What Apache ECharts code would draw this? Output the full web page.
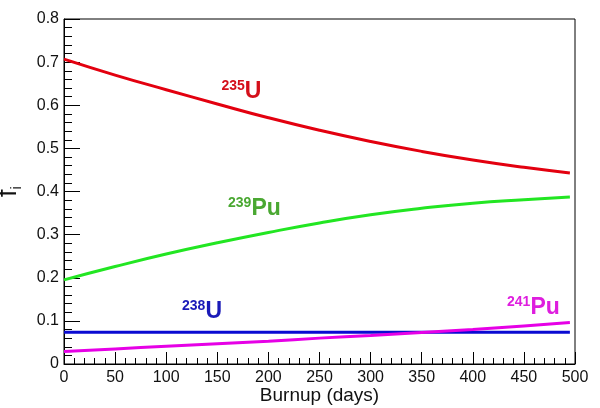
<!DOCTYPE html>
<html>
<head>
<meta charset="utf-8">
<script src="https://cdn.jsdelivr.net/npm/echarts@6/dist/echarts.min.js"></script>
<style>html,body{margin:0;padding:0;background:#fff}#c{width:600px;height:408px}</style>
</head>
<body>
<div id="c"></div>
<script>
const days = [0, 50, 100, 150, 200, 250, 300, 350, 400, 450, 495];
const u235 = [0.707, 0.670, 0.636, 0.603, 0.571, 0.542, 0.516, 0.493, 0.473, 0.456, 0.443];
const pu239 = [0.195, 0.226, 0.255, 0.281, 0.305, 0.327, 0.346, 0.361, 0.373, 0.381, 0.387];
const u238 = [0.0735, 0.0735, 0.0735, 0.0735, 0.0735, 0.0735, 0.0735, 0.0735, 0.0735, 0.0735, 0.0735];
const pu241 = [0.029, 0.035, 0.041, 0.047, 0.053, 0.060, 0.066, 0.073, 0.080, 0.088, 0.096];
const xTicks = [0, 50, 100, 150, 200, 250, 300, 350, 400, 450, 500];
const yTicks = [0, 0.1, 0.2, 0.3, 0.4, 0.5, 0.6, 0.7, 0.8];

const seriesNames = ['235U', '239Pu', '238U', '241Pu'];
const seriesData = [u235, pu239, u238, pu241];
const lineColors = ['#e3000f', '#22e622', '#0a0ad2', '#e600e6'];
const labelColors = ['#d40f1a', '#4aa832', '#1a1ab8', '#de1ede'];
const labelMass = ['235', '239', '238', '241'];
const labelElem = ['U', 'Pu', 'U', 'Pu'];
const labelX = [154, 160.5, 115.5, 433.5];
const labelY = [0.604, 0.334, 0.094, 0.104];

const chart = echarts.init(document.getElementById('c'), null, {renderer: 'canvas'});
const FONT = 'Liberation Sans, Arial, sans-serif';

const option = {
  animation: false,
  backgroundColor: '#fff',
  grid: {left: 64, right: 25, top: 19, bottom: 44, show: true, borderColor: '#000', borderWidth: 1,
    backgroundColor: 'transparent', containLabel: false, outerBoundsMode: 'none'},
  xAxis: {
    type: 'value', min: 0, max: 500, interval: 50,
    name: 'Burnup (days)', nameLocation: 'middle', nameGap: 22, nameMoveOverlap: false,
    nameTextStyle: {fontFamily: FONT, fontSize: 19, color: '#111', verticalAlign: 'top'},
    axisLine: {show: true, onZero: false, lineStyle: {color: '#000', width: 1}},
    axisTick: {show: true, inside: true, length: 12, lineStyle: {color: '#000'}},
    minorTick: {show: true, splitNumber: 5, length: 6, lineStyle: {color: '#000'}},
    axisLabel: {fontFamily: FONT, fontSize: 16, color: '#111', margin: 6,
      formatter: v => xTicks.includes(v) ? String(v) : ''},
    splitLine: {show: false}
  },
  yAxis: {
    type: 'value', min: 0, max: 0.8, interval: 0.1,
    name: '{f|f}{i|i}', nameLocation: 'middle', nameRotate: 90, nameGap: 40, nameMoveOverlap: false,
    nameTextStyle: {
      rich: {
        f: {fontFamily: FONT, fontSize: 27, color: '#111', lineHeight: 30, verticalAlign: 'middle'},
        i: {fontFamily: FONT, fontSize: 15, color: '#111', lineHeight: 14, verticalAlign: 'bottom'}
      }
    },
    axisLine: {show: true, lineStyle: {color: '#000', width: 1}},
    axisTick: {show: true, inside: true, length: 16, lineStyle: {color: '#000'}},
    minorTick: {show: true, splitNumber: 5, length: 8, lineStyle: {color: '#000'}},
    axisLabel: {fontFamily: FONT, fontSize: 16, color: '#111', margin: 5,
      formatter: v => { const t = yTicks.find(y => Math.abs(y - v) < 1e-6); return t === undefined ? '' : (t === 0 ? '0' : t.toFixed(1)); }},
    splitLine: {show: false}
  },
  series: seriesNames.map((n, i) => ({
    name: n, type: 'line', smooth: true, showSymbol: false, symbol: 'none',
    lineStyle: {color: lineColors[i], width: 3},
    data: days.map((d, j) => [d, seriesData[i][j]])
  }))
};
chart.setOption(option);

const graphics = [];
for (let i = 0; i < seriesNames.length; i++) {
  const p = chart.convertToPixel({gridIndex: 0}, [labelX[i], labelY[i]]);
  graphics.push({
    type: 'text', left: p[0], top: p[1] - 24,
    style: {
      text: '{s|' + labelMass[i] + '}{m|' + labelElem[i] + '}',
      rich: {
        s: {fontFamily: FONT, fontWeight: 'bold', fontSize: 14, fill: labelColors[i], verticalAlign: 'top', lineHeight: 24},
        m: {fontFamily: FONT, fontWeight: 'bold', fontSize: 23, fill: labelColors[i], verticalAlign: 'bottom', lineHeight: 24}
      }
    }
  });
}
chart.setOption({graphic: graphics});
</script>
</body>
</html>
